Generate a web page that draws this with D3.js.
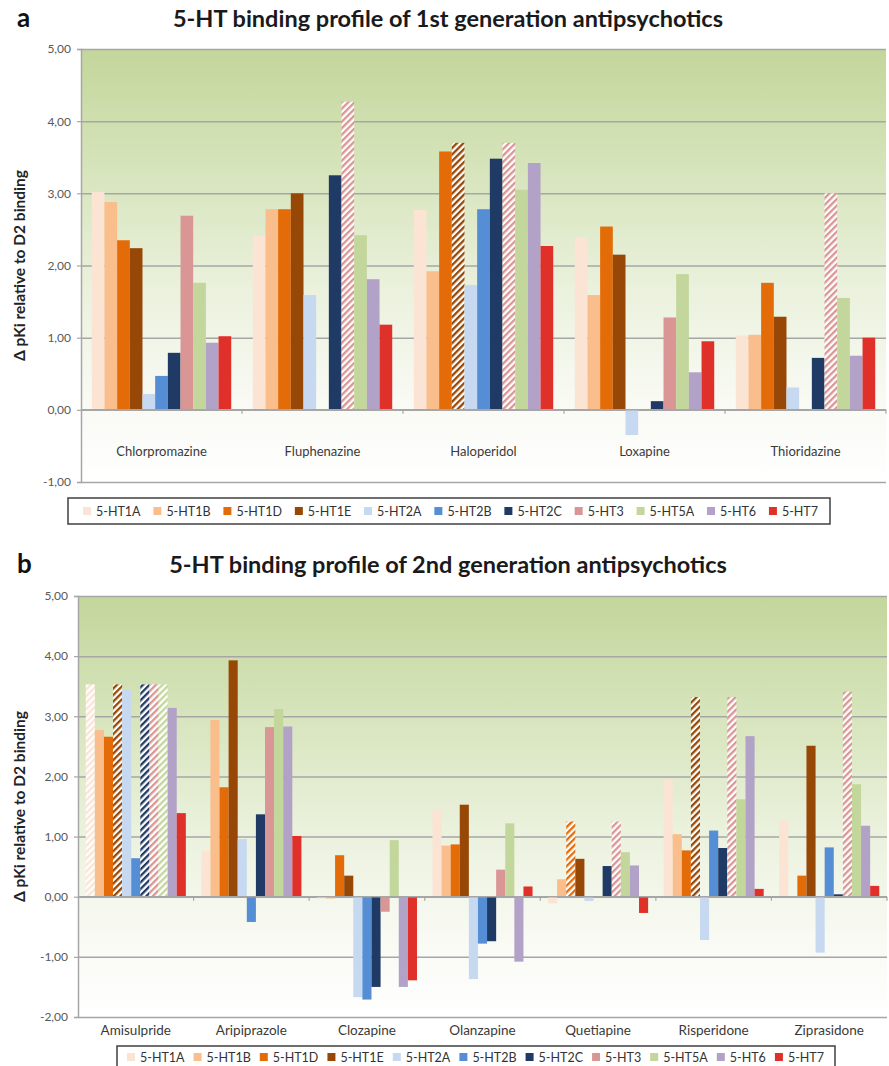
<!DOCTYPE html>
<html>
<head>
<meta charset="utf-8">
<script src="https://cdn.jsdelivr.net/npm/d3@7"></script>
<style>
  body { margin: 0; background: #fff; }
  text { font-family: Lato, "Open Sans", sans-serif; }
</style>
</head>
<body>
<div id="chart"></div>
<script>
var svgWidth = 889;
var svgHeight = 1066;

// receptor subtypes (series) and their colours
var receptors = ["5-HT1A", "5-HT1B", "5-HT1D", "5-HT1E", "5-HT2A", "5-HT2B", "5-HT2C", "5-HT3", "5-HT5A", "5-HT6", "5-HT7"];
var receptorColors = ["#FCE4D4", "#F9BE8C", "#E36C09", "#974706", "#C6D9F0", "#558ED5", "#1F3A64", "#D99694", "#C3D69B", "#B3A2C7", "#E0302A"];

// panel a: 1st generation
var firstGenDrugs = ["Chlorpromazine", "Fluphenazine", "Haloperidol", "Loxapine", "Thioridazine"];
var chlorpromazine = [3.02, 2.88, 2.35, 2.24, 0.22, 0.47, 0.79, 2.69, 1.76, 0.93, 1.02];
var fluphenazine   = [2.41, 2.78, 2.78, 3.00, 1.59, null, 3.25, 4.27, 2.42, 1.81, 1.18];
var haloperidol    = [2.77, 1.92, 3.58, 3.70, 1.73, 2.78, 3.48, 3.70, 3.05, 3.42, 2.27];
var loxapine       = [2.39, 1.59, 2.54, 2.15, -0.35, null, 0.12, 1.28, 1.88, 0.52, 0.95];
var thioridazine   = [1.03, 1.04, 1.76, 1.29, 0.31, null, 0.72, 3.00, 1.55, 0.75, 1.00];
// striped bars (estimated / censored values)
var firstGenHatched = [[], ["5-HT3"], ["5-HT1E", "5-HT3"], [], ["5-HT3"]];
var firstGenTicks = [-1, 0, 1, 2, 3, 4, 5];

// panel b: 2nd generation
var secondGenDrugs = ["Amisulpride", "Aripiprazole", "Clozapine", "Olanzapine", "Quetiapine", "Risperidone", "Ziprasidone"];
var amisulpride  = [3.53, 2.77, 2.66, 3.53, 3.44, 0.64, 3.53, 3.53, 3.53, 3.14, 1.39];
var aripiprazole = [0.77, 2.94, 1.82, 3.93, 0.96, -0.42, 1.37, 2.82, 3.12, 2.83, 1.01];
var clozapine    = [-0.03, -0.03, 0.69, 0.35, -1.67, -1.71, -1.50, -0.25, 0.94, -1.50, -1.39];
var olanzapine   = [1.46, 0.85, 0.87, 1.53, -1.37, -0.78, -0.74, 0.45, 1.22, -1.08, 0.17];
var quetiapine   = [-0.11, 0.29, 1.25, 0.63, -0.07, null, 0.51, 1.25, 0.74, 0.52, -0.27];
var risperidone  = [1.94, 1.04, 0.77, 3.32, -0.72, 1.10, 0.81, 3.32, 1.62, 2.67, 0.13];
var ziprasidone  = [1.28, null, 0.35, 2.51, -0.93, 0.82, 0.04, 3.41, 1.87, 1.18, 0.18];
var secondGenHatched = [["5-HT1A", "5-HT1E", "5-HT2C", "5-HT3", "5-HT5A"], [], [], [], ["5-HT1D", "5-HT3"], ["5-HT1E", "5-HT3"], ["5-HT3"]];
var secondGenTicks = [-2, -1, 0, 1, 2, 3, 4, 5];

var commaFormat = d3.formatLocale({decimal: ",", thousands: ".", grouping: [3], currency: ["", ""], minus: "-"}).format(".2f");

var svg = d3.select("#chart")
	.append("svg")
	.attr("width", svgWidth)
	.attr("height", svgHeight);

var defs = svg.append("defs");

// green to white plot background
var grad = defs.append("linearGradient")
	.attr("id", "bg")
	.attr("x1", 0).attr("y1", 0).attr("x2", 0).attr("y2", 1);
[[0, "#C3D69B"], [0.3, "#D8E5BE"], [0.55, "#EAF1DC"], [0.78, "#F7F9F1"], [1, "#FFFFFF"]].forEach(function(s) {
	grad.append("stop").attr("offset", s[0]).attr("stop-color", s[1]);
});

// diagonal stripe pattern per receptor colour
receptorColors.forEach(function(c, i) {
	var p = defs.append("pattern")
		.attr("id", "hatch" + i)
		.attr("patternUnits", "userSpaceOnUse")
		.attr("width", 4.6)
		.attr("height", 4.6)
		.attr("patternTransform", "rotate(45)");
	p.append("rect").attr("width", 4.6).attr("height", 4.6).attr("fill", "#fff");
	p.append("rect").attr("width", 2.3).attr("height", 4.6).attr("fill", c);
});

function drawPanel(cfg) {
	var g = svg.append("g");
	var plotW = cfg.right - cfg.left;

	var x0 = d3.scaleBand()
		.domain(cfg.drugs)
		.range([cfg.left, cfg.right]);
	var x1 = d3.scaleBand()
		.domain(receptors)
		.range([0, x0.bandwidth()])
		.paddingOuter(0.85);
	var y = d3.scaleLinear()
		.domain([cfg.ticks[0], 5])
		.range([cfg.bottom, cfg.top]);

	g.append("rect")
		.attr("x", cfg.left)
		.attr("y", cfg.top)
		.attr("width", plotW)
		.attr("height", cfg.bottom - cfg.top)
		.attr("fill", "url(#bg)");

	// gridlines
	var grid = g.append("g")
		.attr("transform", `translate(${cfg.left},0)`)
		.call(d3.axisLeft(y).tickValues(cfg.ticks).tickSize(-plotW).tickFormat(""));
	grid.select(".domain").remove();
	grid.selectAll("line").attr("stroke", "#A6A6A6").attr("stroke-width", 1.5);

	var bars = [];
	cfg.drugs.forEach(function(drug, i) {
		receptors.forEach(function(r, j) {
			var v = cfg.values[i][j];
			if (v === null) return;
			bars.push({drug: drug, receptor: r, idx: j, value: v, hatched: cfg.hatched[i].indexOf(r) >= 0});
		});
	});

	g.selectAll(null)
		.data(bars)
		.enter()
		.append("rect")
		.attr("x", d => x0(d.drug) + x1(d.receptor))
		.attr("y", d => y(Math.max(0, d.value)))
		.attr("width", x1.bandwidth())
		.attr("height", d => Math.abs(y(d.value) - y(0)))
		.attr("fill", d => d.hatched ? `url(#hatch${d.idx})` : receptorColors[d.idx]);

	// category axis at zero with boundary ticks
	var xAxis = g.append("g")
		.attr("transform", `translate(0, ${y(0)})`);
	xAxis.append("line")
		.attr("x1", cfg.left).attr("x2", cfg.right)
		.attr("stroke", "#A6A6A6").attr("stroke-width", 1.5);
	xAxis.selectAll(null)
		.data(cfg.drugs.slice(1).concat(["end"]))
		.enter()
		.append("line")
		.attr("x1", d => d === "end" ? cfg.right : x0(d))
		.attr("x2", d => d === "end" ? cfg.right : x0(d))
		.attr("y1", 0).attr("y2", 4)
		.attr("stroke", "#A6A6A6").attr("stroke-width", 1.2);

	g.selectAll(null)
		.data(cfg.drugs)
		.enter()
		.append("text")
		.attr("x", d => x0(d) + x0.bandwidth() / 2)
		.attr("y", cfg.labelY)
		.attr("text-anchor", "middle")
		.style("font-size", cfg.labelSize + "px")
		.attr("fill", "#3a3a3a")
		.text(d => d);

	// value axis
	var yAxis = g.append("g")
		.attr("transform", `translate(${cfg.left},0)`)
		.call(d3.axisLeft(y).tickValues(cfg.ticks).tickSize(4).tickPadding(6).tickFormat(commaFormat));
	yAxis.select(".domain").attr("stroke", "#A6A6A6").attr("stroke-width", 1.5);
	yAxis.selectAll("line").attr("stroke", "#A6A6A6").attr("stroke-width", 1.2);
	yAxis.selectAll("text")
		.attr("fill", "#595959")
		.style("font-size", "12px")
		.style("font-family", "Lato, sans-serif");

	g.append("text")
		.attr("transform", `translate(25, ${(cfg.top + cfg.bottom) / 2}) rotate(-90)`)
		.attr("text-anchor", "middle")
		.style("font-size", "15.5px")
		.style("font-weight", "bold")
		.attr("fill", "#222")
		.text("\u0394 pKi relative to D2 binding");

	// panel letter and title
	g.append("text")
		.attr("x", 17)
		.attr("y", cfg.titleY)
		.style("font-size", "26px")
		.style("font-weight", "bold")
		.attr("fill", "#111")
		.text(cfg.letter);
	g.append("text")
		.attr("x", 448)
		.attr("y", cfg.titleY)
		.attr("text-anchor", "middle")
		.style("font-size", "23.5px")
		.style("font-weight", "bold")
		.attr("fill", "#1a1a1a")
		.text(cfg.title);

	drawLegend(cfg.legend);
}

function drawLegend(lg) {
	var g = svg.append("g");
	g.append("rect")
		.attr("x", lg.x).attr("y", lg.y)
		.attr("width", lg.w).attr("height", lg.h)
		.attr("fill", "#fff")
		.attr("stroke", "#404040")
		.attr("stroke-width", 1.5);

	var cy = lg.y + lg.h / 2;
	var labels = g.selectAll(null)
		.data(receptors)
		.enter()
		.append("text")
		.attr("y", cy + 4.5)
		.style("font-size", "12.5px")
		.attr("fill", "#333")
		.text(d => d);

	var widths = [];
	labels.each(function() { widths.push(this.getComputedTextLength()); });
	var sw = 8, sgap = 5;
	var used = d3.sum(widths) + receptors.length * (sw + sgap);
	var gap = (lg.itemsEnd - lg.itemsStart - used) / (receptors.length - 1);

	var pos = [];
	var cur = lg.itemsStart;
	widths.forEach(function(w) {
		pos.push(cur);
		cur += sw + sgap + w + gap;
	});

	labels.attr("x", (d, i) => pos[i] + sw + sgap);
	g.selectAll(null)
		.data(receptors)
		.enter()
		.append("rect")
		.attr("x", (d, i) => pos[i])
		.attr("y", cy - sw / 2)
		.attr("width", sw)
		.attr("height", sw)
		.attr("fill", (d, i) => receptorColors[i]);
}

drawPanel({
	letter: "a",
	title: "5-HT binding profile of 1st generation antipsychotics",
	titleY: 27,
	drugs: firstGenDrugs,
	values: [chlorpromazine, fluphenazine, haloperidol, loxapine, thioridazine],
	hatched: firstGenHatched,
	ticks: firstGenTicks,
	left: 81, right: 886, top: 49, bottom: 482,
	labelY: 456, labelSize: 13,
	legend: {x: 68, y: 498, w: 762, h: 26, itemsStart: 83, itemsEnd: 818}
});

drawPanel({
	letter: "b",
	title: "5-HT binding profile of 2nd generation antipsychotics",
	titleY: 573,
	drugs: secondGenDrugs,
	values: [amisulpride, aripiprazole, clozapine, olanzapine, quetiapine, risperidone, ziprasidone],
	hatched: secondGenHatched,
	ticks: secondGenTicks,
	left: 78, right: 887, top: 596, bottom: 1017,
	labelY: 1035, labelSize: 13.5,
	legend: {x: 117, y: 1046, w: 718, h: 22, itemsStart: 127, itemsEnd: 824}
});
</script>
</body>
</html>
